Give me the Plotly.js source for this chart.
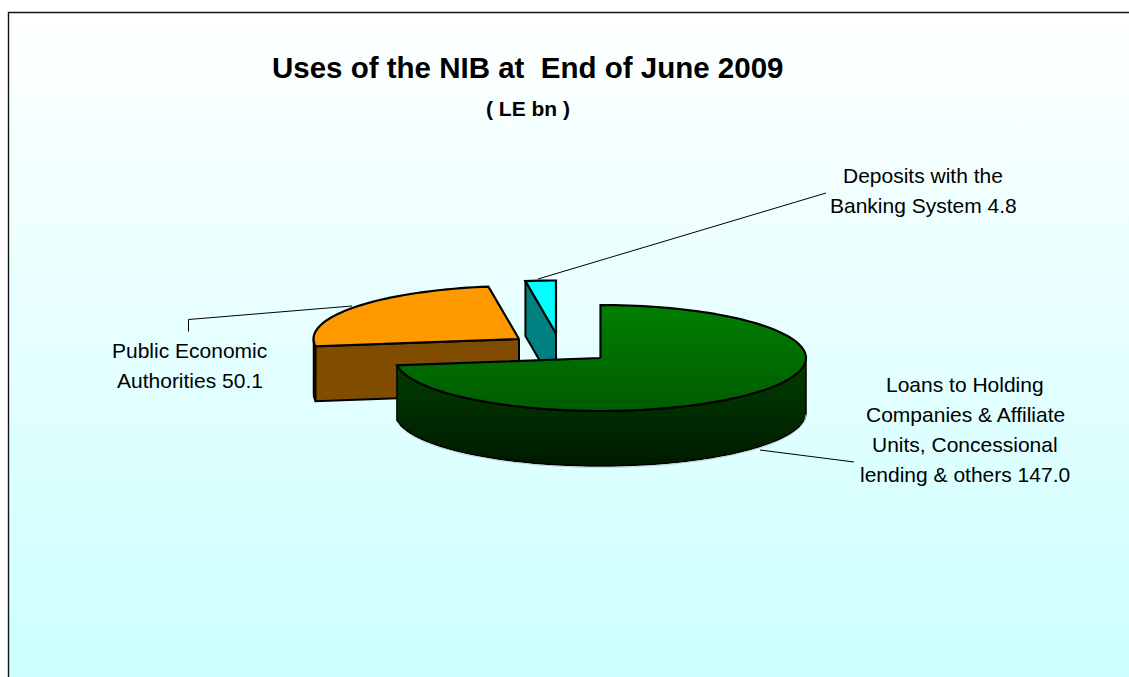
<!DOCTYPE html>
<html>
<head>
<meta charset="utf-8">
<script src="https://cdn.plot.ly/plotly-3.0.1.min.js"></script>
<style>html,body{margin:0;padding:0;background:#fff}#chart{width:1129px;height:677px}</style>
</head>
<body>
<div id="chart"></div>
<script>
// NIB uses, LE bn; slices run clockwise from twelve o'clock
const categories = ["Loans to Holding Companies & Affiliate Units, Concessional lending & others", "Public Economic Authorities", "Deposits with the Banking System"];
const values = [147.0, 50.1, 4.8];
const topColors = [["#008000", "#005c00"], ["#ff9900", "#ff9900"], ["#00ffff", "#00ffff"]];
const wallColors = [["#004000", "#001a00"], ["#804d00", "#804d00"], ["#008080", "#008080"]];
const labelLines = [
  ["Loans to Holding", "Companies & Affiliate", "Units, Concessional", "lending & others " + values[0].toFixed(1)],
  ["Public Economic", "Authorities " + values[1].toFixed(1)],
  ["Deposits with the", "Banking System " + values[2].toFixed(1)]
];

// Projection of the tilted disc onto the page, in plot units
const centre = [600.5, 358];
const radiusX = 205.5, radiusY = 53, depth = 55;
const explode = [[0, 0], [-81.5, -19], [-44.5, -24.5]];
const labelPos = [[965, 384], [189.5, 350], [923, 175]];
const leaders = [
  {x: [760, 854], y: [450, 462]},
  {x: [188.5, 188.5, 352], y: [331.5, 319.5, 306]},
  {x: [538, 826], y: [279, 193]}
];

const total = values.reduce((a, b) => a + b, 0);
const rad = d => d * Math.PI / 180;
const rim = (c, deg, dy) => [c[0] + radiusX * Math.sin(rad(deg)), c[1] - radiusY * Math.cos(rad(deg)) + (dy || 0)];

function arc(c, from, to, dy) {
  const pts = [], n = Math.max(2, Math.ceil(Math.abs(to - from) / 2));
  for (let i = 0; i <= n; i++) pts.push(rim(c, from + (to - from) * i / n, dy));
  return pts;
}
const poly = (pts, color, grad, lw) => Object.assign({
  type: "scatter", mode: "lines", x: pts.map(p => p[0]), y: pts.map(p => p[1]),
  fill: "toself", hoverinfo: "skip",
  line: {color: color, width: lw, simplify: false}
}, grad ? {fillgradient: {type: "vertical", colorscale: [[0, grad[1]], [1, grad[0]]]}} : {});

// Panel background, framed along its top and left edges only
const panelX = [8.5, 1129, 1129, 8.5, 8.5], panelY = [12.5, 12.5, 677, 677, 12.5];
const traces = [{
  type: "scatter", mode: "lines", x: panelX, y: panelY, fill: "toself", hoverinfo: "skip",
  line: {color: "rgba(0,0,0,0)", width: 0},
  fillgradient: {type: "vertical", colorscale: [[0, "#ccffff"], [1, "#ffffff"]]}
}, {
  type: "scatter", mode: "lines", x: [8.5, 8.5, 1129], y: [677, 12.5, 12.5], hoverinfo: "skip",
  line: {color: "#111", width: 1.4}
}];

// Leader lines sit beneath the slices
leaders.forEach(l => traces.push({type: "scatter", mode: "lines", x: l.x, y: l.y, hoverinfo: "skip", line: {color: "#000", width: 1}}));

// Slices are stacked back to front: deposits, authorities, loans
let start = 0;
const angles = values.map(v => { const a = [start, start + v / total * 360]; start = a[1]; return a; });
const sliceTraces = values.map((v, i) => {
  const [a0, a1] = angles[i];
  const c = [centre[0] + explode[i][0], centre[1] + explode[i][1]];
  const stack = [];
  // curved outer wall on the near half of the rim
  const w0 = Math.max(a0, 90), w1 = Math.min(a1, 270);
  if (w1 > w0) {
    const wall = arc(c, w0, w1, 0).concat(arc(c, w1, w0, depth));
    wall.push(wall[0]);
    stack.push(poly(wall, "#000", wallColors[i], 1.5));
  }
  // the first cut face of an exploded slice on the far left looks towards the viewer
  if (i > 0 && a0 > 180) {
    const e = rim(c, a0);
    stack.push(poly([c, e, [e[0], e[1] + depth], [c[0], c[1] + depth], c], "#000", wallColors[i], 2));
  }
  const top = [c].concat(arc(c, a0, a1, 0));
  top.push(c);
  stack.push(poly(top, "#000", topColors[i], 2.2));
  return stack;
});
[2, 1, 0].forEach(i => sliceTraces[i].forEach(t => traces.push(t)));

// Pale highlight under the front edge of the large slice
const edge = arc(centre, 90, angles[0][1], depth + 1.5);
traces.push({type: "scatter", mode: "lines", x: edge.map(p => p[0]), y: edge.map(p => p[1]), hoverinfo: "skip", line: {color: "rgba(190,205,205,0.9)", width: 1}});

const annotations = [];
labelLines.forEach((lines, i) => lines.forEach((t, k) => annotations.push({
  xref: "x", yref: "y", x: labelPos[i][0], y: labelPos[i][1] + k * 30, text: t, showarrow: false,
  xanchor: "center", yanchor: "middle", font: {family: "Liberation Sans", size: 21, color: "#000"}
})));
annotations.push({xref: "x", yref: "y", x: 527.5, y: 67, text: "Uses of the NIB at\u00a0 End of June 2009", showarrow: false,
  xanchor: "center", yanchor: "middle", font: {family: "Liberation Sans", size: 29.5, color: "#000", weight: 700}});
annotations.push({xref: "x", yref: "y", x: 527.5, y: 108.5, text: "( LE bn )", showarrow: false,
  xanchor: "center", yanchor: "middle", font: {family: "Liberation Sans", size: 21, color: "#000", weight: 700}});

Plotly.newPlot("chart", traces, {
  width: 1129, height: 677, showlegend: false,
  margin: {l: 0, r: 0, t: 0, b: 0},
  paper_bgcolor: "#fff", plot_bgcolor: "rgba(0,0,0,0)",
  xaxis: {range: [0, 1129], visible: false, fixedrange: true},
  yaxis: {range: [677, 0], visible: false, fixedrange: true},
  annotations: annotations
}, {displayModeBar: false, staticPlot: true});
</script>
</body>
</html>
